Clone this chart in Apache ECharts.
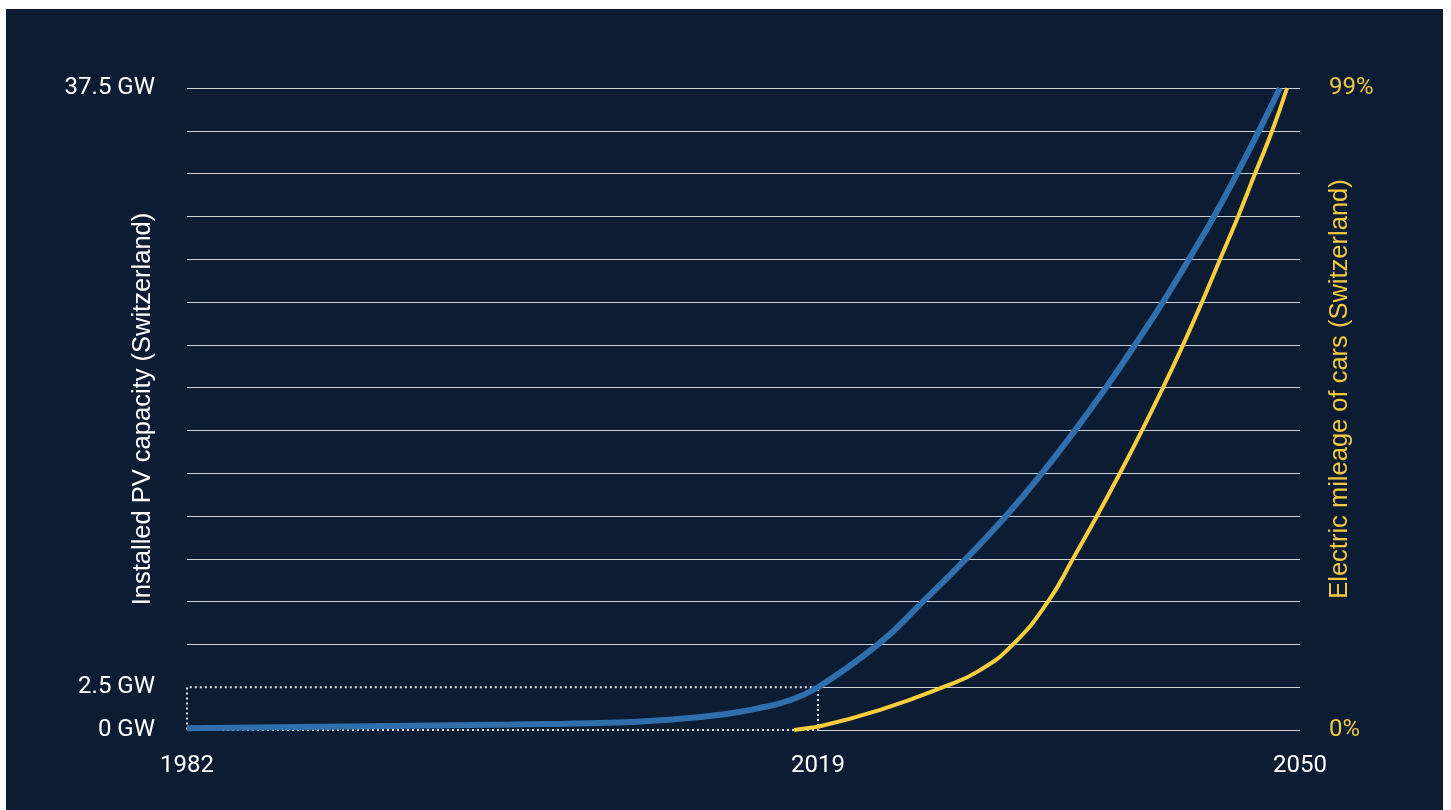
<!DOCTYPE html>
<html>
<head>
<meta charset="utf-8">
<script src="https://cdn.jsdelivr.net/npm/echarts@6/dist/echarts.min.js"></script>
<style>
  html, body { margin: 0; padding: 0; background: #ffffff; width: 1451px; height: 810px; overflow: hidden; }
  #chart { position: absolute; left: 6px; top: 9px; width: 1437px; height: 801px; }
</style>
</head>
<body>
<div id="chart"></div>
<script>
// ---- Data ----
// Installed PV capacity, historical part (GW)
const pvHistYears = [1982, 1994, 2001, 2006.6, 2010.5, 2013.4, 2015.4, 2017.4, 2019];
const pvHistGW    = [0.1, 0.24, 0.32, 0.42, 0.62, 0.91, 1.25, 1.75, 2.5];
// Installed PV capacity, projection (GW)
const pvProjYears = [2019, 2022.86, 2025.75, 2028.52, 2031.09, 2033.41, 2035.53, 2037.52, 2039.39, 2041.19, 2042.86, 2044.47, 2045.95, 2047.36, 2048.71];
const pvProjGW    = [2.5, 5, 7.5, 10, 12.5, 15, 17.5, 20, 22.5, 25, 27.5, 30, 32.5, 35, 37.5];
// Electric share of car mileage (%)
const evHistYears = [2017.6, 2019];
const evHistPct   = [0, 0.5];
const evProjYears = [2019, 2023, 2027.04, 2029.4, 2031.54, 2033.79, 2035.4, 2036.94, 2038.42, 2039.84, 2041.19, 2042.48, 2043.7, 2044.86, 2046.02, 2047.11, 2048.21, 2049.17];
const evProjPct   = [0.5, 3.1, 6.6, 9.2, 13.2, 19.8, 26.4, 33, 39.6, 46.2, 52.8, 59.4, 66, 72.6, 79.2, 85.8, 92.4, 99];
// Axis ticks / labels
const leftXLabels  = [1982, 2019];
const rightXLabels = [2050];
const gwLabelValues = [0, 2.5, 37.5];
const pctLabelValues = [0, 99];
const leftAxisName  = 'Installed PV capacity (Switzerland)';
const rightAxisName = 'Electric mileage of cars (Switzerland)';

const zip = (xs, ys) => xs.map((x, i) => [x, ys[i]]);

const BLUE = '#2f6fae';
const YELLOW = '#f9cd3c';
const YELLOW_TXT = '#f3c83f';
const GRID = '#cdd1d7';
const tickFont = 'Roboto, "Liberation Sans", sans-serif';
const nameFont = '"Liberation Sans", Arial, sans-serif';

const gridLineColorsLeft = [];
for (let i = 0; i <= 15; i++) gridLineColorsLeft.push(i < 2 ? 'rgba(0,0,0,0)' : GRID);

const chart = echarts.init(document.getElementById('chart'), null, { renderer: 'canvas' });
chart.setOption({
  backgroundColor: '#0b1c33',
  animation: false,
  grid: [
    { left: 181, top: 79, width: 631, height: 642, containLabel: false },
    { left: 812, top: 79, width: 482, height: 642, containLabel: false }
  ],
  xAxis: [
    {
      type: 'value', gridIndex: 0, min: 1982, max: 2019,
      axisLine: { show: false }, axisTick: { show: false }, splitLine: { show: false },
      axisLabel: { customValues: leftXLabels, color: '#ffffff', fontFamily: tickFont, fontSize: 24, margin: 24,
        formatter: v => String(v) }
    },
    {
      type: 'value', gridIndex: 1, min: 2019, max: 2050,
      axisLine: { show: false }, axisTick: { show: false }, splitLine: { show: false },
      axisLabel: { customValues: rightXLabels, color: '#ffffff', fontFamily: tickFont, fontSize: 24, margin: 24,
        formatter: v => String(v) }
    }
  ],
  yAxis: [
    {
      type: 'value', gridIndex: 0, min: 0, max: 37.5, interval: 2.5, position: 'left',
      axisLine: { show: false }, axisTick: { show: false },
      splitLine: { show: true, lineStyle: { color: gridLineColorsLeft, width: 1.2 } },
      axisLabel: {
        color: '#ffffff', fontFamily: tickFont, fontSize: 24, margin: 32,
        formatter: v => gwLabelValues.indexOf(v) >= 0 ? (v + ' GW') : ''
      },
      name: leftAxisName, nameLocation: 'middle', nameRotate: 90, nameGap: 31, nameMoveOverlap: false,
      nameTextStyle: { color: '#ffffff', fontFamily: nameFont, fontSize: 25.5 }
    },
    {
      type: 'value', gridIndex: 0, min: 0, max: 99, show: false
    },
    {
      type: 'value', gridIndex: 1, min: 0, max: 37.5, interval: 2.5, position: 'left',
      axisLine: { show: false }, axisTick: { show: false }, axisLabel: { show: false },
      splitLine: { show: true, lineStyle: { color: GRID, width: 1.2 } }
    },
    {
      type: 'value', gridIndex: 1, min: 0, max: 99, interval: 99, position: 'right',
      axisLine: { show: false }, axisTick: { show: false }, splitLine: { show: false },
      axisLabel: {
        color: YELLOW_TXT, fontFamily: tickFont, fontSize: 24, margin: 29,
        formatter: v => pctLabelValues.indexOf(v) >= 0 ? (v + '%') : ''
      },
      name: rightAxisName, nameLocation: 'middle', nameRotate: 90, nameGap: 27, nameMoveOverlap: false,
      nameTextStyle: { color: YELLOW_TXT, fontFamily: nameFont, fontSize: 25.5, padding: [0, 0, 0, 40] }
    }
  ],
  series: [
    {
      type: 'line', name: 'PV historical', xAxisIndex: 0, yAxisIndex: 0,
      data: zip(pvHistYears, pvHistGW), smooth: 0.5, showSymbol: false, symbol: 'none', clip: false,
      lineStyle: { color: BLUE, width: 6 }, z: 3,
      markArea: {
        silent: true,
        itemStyle: { color: 'rgba(0,0,0,0)', borderColor: '#dfe2e7', borderWidth: 2, borderType: [2, 3] },
        data: [[{ coord: [1982, 0] }, { coord: [2019, 2.5] }]]
      }
    },
    {
      type: 'line', name: 'PV projection', xAxisIndex: 1, yAxisIndex: 2,
      data: zip(pvProjYears, pvProjGW), smooth: 0.5, showSymbol: false, symbol: 'none',
      lineStyle: { color: BLUE, width: 6 }, z: 3
    },
    {
      type: 'line', name: 'EV historical', xAxisIndex: 0, yAxisIndex: 1,
      data: zip(evHistYears, evHistPct), smooth: 0.3, showSymbol: false, symbol: 'none', clip: false,
      lineStyle: { color: YELLOW, width: 4 }, z: 4
    },
    {
      type: 'line', name: 'EV projection', xAxisIndex: 1, yAxisIndex: 3,
      data: zip(evProjYears, evProjPct), smooth: 0.5, showSymbol: false, symbol: 'none',
      lineStyle: { color: YELLOW, width: 4 }, z: 4
    }
  ]
});
</script>
</body>
</html>
